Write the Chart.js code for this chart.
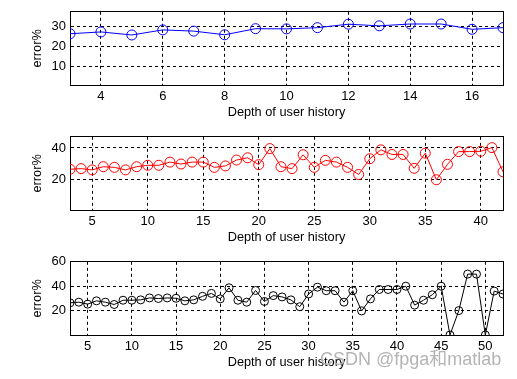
<!DOCTYPE html>
<html>
<head>
<meta charset="utf-8">
<script src="https://cdn.jsdelivr.net/npm/chart.js@4"></script>
<style>
    body { margin: 0; background: #fff; }
    #wrap { position: relative; width: 517px; height: 379px; background: #fff; }
    canvas { position: absolute; left: 0; }
    #mark {
        position: absolute; left: 320px; top: 349px;
        font: 18px "Liberation Sans", "Noto Sans CJK SC", sans-serif;
        line-height: 20px; color: #b4b4b4; white-space: nowrap;
    }
</style>
</head>
<body>
<div id="wrap">
    <canvas id="c1" width="517" height="125" style="top:0px"></canvas>
    <canvas id="c2" width="517" height="125" style="top:125px"></canvas>
    <canvas id="c3" width="517" height="129" style="top:250px"></canvas>
    <div id="mark">CSDN @fpga和matlab</div>
</div>
<script>
    // depth of user history starts at 3 in every panel
    const depthStart = 3;

    // error%
    const err1 = [26.2, 27.1, 25.6, 28.1, 27.5, 25.7, 28.7, 28.6, 29.2, 30.9, 30.1, 31.0, 31.0, 28.4, 29.2];
    const err2 = [26.6, 27.0, 26.2, 28.2, 27.8, 26.2, 28.2, 29.1, 29.1, 31.1, 29.9, 31.1, 31.1, 27.8, 28.7,
        32.4, 33.8, 29.5, 39.6, 28.2, 27.0, 35.7, 27.8, 32.2, 31.1, 27.8, 23.3, 33.2, 38.8, 35.9,
        35.9, 27.2, 36.7, 20.0, 29.7, 37.7, 37.7, 37.9, 40.2, 25.0];
    const err3 = [26.4, 26.9, 25.3, 28.0, 26.9, 25.0, 28.5, 28.5, 28.8, 30.4, 29.9, 30.4, 30.1, 28.0, 28.8,
        31.7, 34.1, 29.6, 38.7, 28.5, 26.9, 36.5, 27.5, 32.3, 31.2, 28.8, 23.2, 33.6, 39.2, 36.3,
        36.3, 26.9, 36.3, 19.7, 29.6, 37.3, 37.3, 37.3, 40.0, 24.5, 28.5, 33.0, 40.0, 0, 20.0,
        49.9, 49.9, 0, 36.0, 33.6];

    // tick labels
    const xTicks1 = [4, 6, 8, 10, 12, 14, 16];
    const xTicks2 = [5, 10, 15, 20, 25, 30, 35, 40];
    const xTicks3 = [5, 10, 15, 20, 25, 30, 35, 40, 45, 50];
    const yTicks1 = [10, 20, 30];
    const yTicks2 = [20, 40];
    const yTicks3 = [20, 40, 60];

    Chart.defaults.font.family = '"Liberation Sans", Arial, sans-serif';
    Chart.defaults.font.size = 13;
    Chart.defaults.color = '#000';

    function toPoints(values) {
        return values.map((v, i) => ({ x: depthStart + i, y: v }));
    }

    function drawPanel(id, values, color, xTicks, yTicks, yMin, yMax, padTop, xHeight, pointR) {
        const ctx = document.getElementById(id).getContext('2d');
        const xMax = depthStart + values.length - 1;
        return new Chart(ctx, {
            type: 'line',
            data: {
                datasets: [{
                    data: toPoints(values),
                    borderColor: color,
                    borderWidth: 1,
                    tension: 0,
                    fill: false,
                    pointStyle: 'circle',
                    pointRadius: pointR,
                    pointBorderWidth: 1,
                    pointBorderColor: color,
                    pointBackgroundColor: 'rgba(0,0,0,0)'
                }]
            },
            options: {
                responsive: false,
                animation: false,
                devicePixelRatio: 1,
                layout: { padding: { top: padTop, right: 14, left: 0, bottom: 0 } },
                plugins: { legend: { display: false }, tooltip: { enabled: false } },
                scales: {
                    x: {
                        type: 'linear', position: 'bottom', min: depthStart, max: xMax,
                        afterBuildTicks: s => { s.ticks = xTicks.map(v => ({ value: v })); },
                        afterFit: s => { s.height = xHeight; },
                        grid: { color: '#000', lineWidth: 1, drawTicks: false },
                        border: { display: true, color: '#000', width: 1, dash: [3, 3] },
                        ticks: { padding: 4, maxRotation: 0, autoSkip: false },
                        title: {
                            display: true, text: 'Depth of user history',
                            font: { size: 12.75 },
                            padding: { top: 0, bottom: xHeight - 40 + 4.5 }
                        }
                    },
                    x2: {
                        type: 'linear', position: 'top', display: true,
                        ticks: { display: false }, grid: { display: false },
                        border: { display: true, color: '#000', width: 1 },
                        afterFit: s => { s.height = 0; }
                    },
                    y: {
                        type: 'linear', position: 'left', min: yMin, max: yMax,
                        afterBuildTicks: s => { s.ticks = yTicks.map(v => ({ value: v })); },
                        afterFit: s => { s.width = 70; },
                        grid: { color: '#000', lineWidth: 1, drawTicks: false },
                        border: { display: true, color: '#000', width: 1, dash: [3, 3] },
                        ticks: { padding: 4 },
                        title: {
                            display: true, text: 'error%',
                            font: { size: 12.75 },
                            padding: { top: 30, bottom: 0 }
                        }
                    },
                    y2: {
                        type: 'linear', position: 'right', display: true,
                        ticks: { display: false }, grid: { display: false },
                        border: { display: true, color: '#000', width: 1 },
                        afterFit: s => { s.width = 0; }
                    }
                }
            }
        });
    }

    drawPanel('c1', err1, '#0000ff', xTicks1, yTicks1, 1, 37, 10, 40, 5);
    drawPanel('c2', err2, '#ff0000', xTicks2, yTicks2, 1, 47, 11, 40, 5);
    drawPanel('c3', err3, '#000000', xTicks3, yTicks3, 0, 60, 10, 44, 4);
</script>
</body>
</html>
